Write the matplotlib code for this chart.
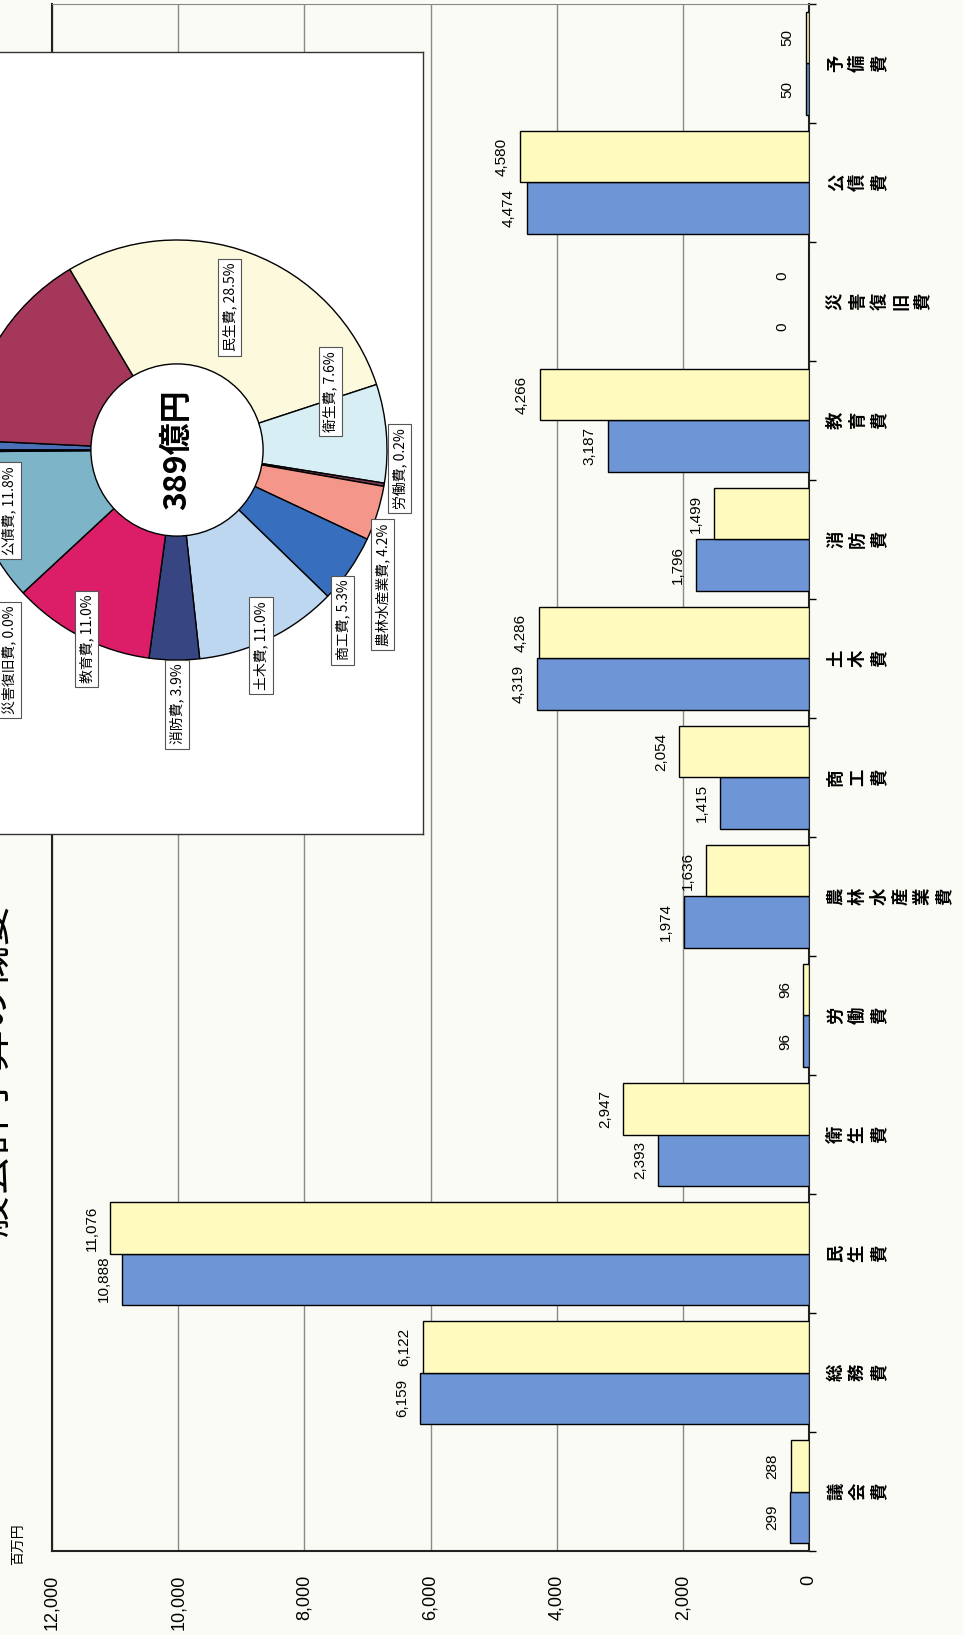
import matplotlib
matplotlib.use("Agg")
import matplotlib.pyplot as plt
from matplotlib.patches import Circle

# data (百万円) -- blue: previous budget, yellow: current budget
categories = ["議会費", "総務費", "民生費", "衛生費", "労働費", "農林水産業費", "商工費",
              "土木費", "消防費", "教育費", "災害復旧費", "公債費", "予備費"]
prev_values = [299, 6159, 10888, 2393, 96, 1974, 1415, 4319, 1796, 3187, 0, 4474, 50]
curr_values = [288, 6122, 11076, 2947, 96, 1636, 2054, 4286, 1499, 4266, 0, 4580, 50]
value_ticks = [0, 2000, 4000, 6000, 8000, 10000, 12000]
pie_center_text = "389億円"
title_text = "一般会計予算の概要"
unit_text = "百万円"

pie_colors = ["#4a70b8", "#a5375a", "#fdf9dc", "#d7eef5", "#7a3a55", "#f5968a", "#376ebe",
              "#bed7f0", "#374682", "#dc1e69", "#888888", "#7db4c8", "#5a82c8"]
# where Excel put the visible pie labels (pie axes coords)
pie_label_pos = {
    "民生費": (0.25, 0.68), "衛生費": (0.73, 0.28), "労働費": (1.06, -0.09),
    "農林水産業費": (0.98, -0.64), "商工費": (0.79, -0.81), "土木費": (0.40, -0.93),
    "消防費": (0.0, -1.21), "教育費": (-0.43, -0.90), "災害復旧費": (-0.80, -1.0),
    "公債費": (-0.80, -0.29),
}

JP = ["Noto Sans CJK JP", "DejaVu Sans"]
NARROW = ["Liberation Sans Narrow", "Liberation Sans", "DejaVu Sans"]
BLUE = "#6e96d7"
YELLOW = "#fffabe"
BG = "#fbfbf6"

W, H = 963, 1635
fig = plt.figure(figsize=(W / 100, H / 100), dpi=100, facecolor=BG)

# --- main bar chart (page is rotated, so bars run horizontally) ---
ax = fig.add_axes([52 / W, (H - 1551) / H, (809 - 52) / W, (1551 - 4) / H])
ax.set_facecolor(BG)
ypos = list(range(len(categories)))
bh = 0.43
ax.barh([y - bh / 2 for y in ypos], prev_values, height=bh, color=BLUE,
        edgecolor="black", linewidth=1, zorder=3)
ax.barh([y + bh / 2 for y in ypos], curr_values, height=bh, color=YELLOW,
        edgecolor="black", linewidth=1, zorder=3)
ax.set_xlim(12000, 0)
ax.set_ylim(-0.5, len(categories) - 0.5)

ax.set_xticks(value_ticks)
ax.set_xticklabels([f"{v:,}" for v in value_ticks], rotation=90, fontsize=13,
                   family=NARROW)
ax.tick_params(axis="x", length=0, pad=17)
ax.xaxis.grid(True, color="#8a8a8a", linewidth=1, zorder=0)
ax.set_yticks([])
ax.set_yticks([y - 0.5 for y in range(len(categories) + 1)], minor=True)
ax.yaxis.tick_right()
ax.tick_params(axis="y", which="minor", length=5, direction="out", width=1)
for side in ["left", "bottom", "right"]:
    ax.spines[side].set_linewidth(1.5)
    ax.spines[side].set_color("#222222")
ax.spines["top"].set_linewidth(0.8)
ax.spines["top"].set_color("#888888")

for y, pv, cv in zip(ypos, prev_values, curr_values):
    for v, yy in ((pv, y - bh / 2), (cv, y + bh / 2)):
        off = -14 if v == 0 else -8
        ax.annotate(f"{v:,}", xy=(v, yy), xytext=(off, 0), textcoords="offset points",
                    rotation=90, ha="right", va="center", fontsize=11, family=NARROW)

# category names: each character turned, laid out left to right
for y, name in zip(ypos, categories):
    for i, ch in enumerate(name):
        ax.annotate(ch, xy=(0, y), xytext=(19.5 + i * 15.6, 0), textcoords="offset points",
                    rotation=90, ha="center", va="center", fontsize=12.5,
                    fontweight="bold", family=JP, annotation_clip=False)

# --- inset box with the donut ---
bax = fig.add_axes([-40 / W, (H - 834) / H, 463 / W, 782 / H])
bax.set_facecolor("white")
bax.set_xticks([])
bax.set_yticks([])
for s in bax.spines.values():
    s.set_linewidth(1)
    s.set_color("#333333")

pax = fig.add_axes([-33 / W, (H - 660) / H, 420 / W, 420 / H])
pax.pie(curr_values, colors=pie_colors, startangle=180, counterclock=False,
        wedgeprops=dict(edgecolor="black", linewidth=1))
pax.add_patch(Circle((0, 0), 0.41, facecolor="white", edgecolor="black", linewidth=1,
                     zorder=5))
pax.text(0, 0, pie_center_text, rotation=90, ha="center", va="center", fontsize=23,
         fontweight="bold", family=JP, zorder=6)
pax.set_xlim(-1, 1)
pax.set_ylim(-1, 1)
pax.axis("off")

total = sum(curr_values)
for name, v in zip(categories, curr_values):
    if name not in pie_label_pos:
        continue
    px, py = pie_label_pos[name]
    pax.text(px, py, f"{name}, {v / total * 100:.1f}%", rotation=90, ha="center",
             va="center", fontsize=10, family=JP, zorder=7, clip_on=False,
             bbox=dict(boxstyle="square,pad=0.3", facecolor="white",
                       edgecolor="#555555", linewidth=0.8))

fig.text(-8 / W, 1 - 1090 / H, title_text, rotation=90, ha="center", va="center",
         fontsize=30, family=JP)
fig.text(18 / W, 1 - 1544 / H, unit_text, rotation=90, ha="center", va="center",
         fontsize=10, family=JP)

fig.savefig("out.png", dpi=100, facecolor=BG)
